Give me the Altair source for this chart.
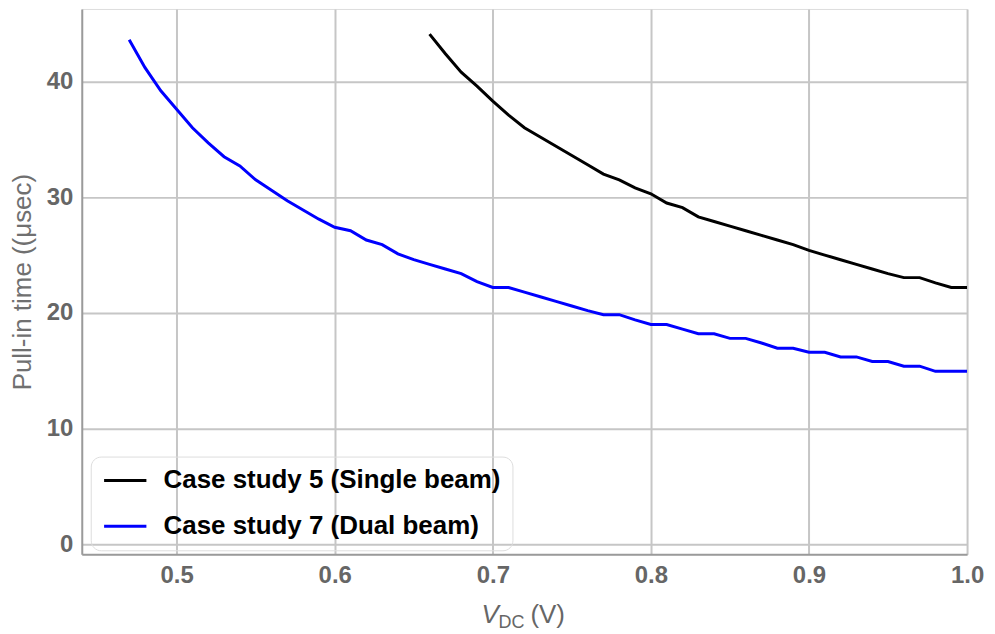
import altair as alt
import pandas as pd

# ---------------- data ----------------
series_names = ["Case study 5 (Single beam)", "Case study 7 (Dual beam)"]
series_colors = ["#000000", "#0000ff"]

vdc_single = [0.66, 0.67, 0.68, 0.69, 0.70, 0.71, 0.72, 0.73, 0.74, 0.75, 0.76, 0.77,
              0.78, 0.79, 0.80, 0.81, 0.82, 0.83, 0.84, 0.85, 0.86, 0.87, 0.88, 0.89,
              0.90, 0.91, 0.92, 0.93, 0.94, 0.95, 0.96, 0.97, 0.98, 0.99, 1.00]
time_single = [44.1, 42.4, 40.8, 39.6, 38.3, 37.1, 36.0, 35.2, 34.4, 33.6, 32.8, 32.0,
               31.5, 30.8, 30.3, 29.5, 29.1, 28.3, 27.9, 27.5, 27.1, 26.7, 26.3, 25.9,
               25.4, 25.0, 24.6, 24.2, 23.8, 23.4, 23.05, 23.05, 22.6, 22.2, 22.2]

vdc_dual = [0.47, 0.48, 0.49, 0.50, 0.51, 0.52, 0.53, 0.54, 0.55, 0.56, 0.57, 0.58,
            0.59, 0.60, 0.61, 0.62, 0.63, 0.64, 0.65, 0.66, 0.67, 0.68, 0.69, 0.70,
            0.71, 0.72, 0.73, 0.74, 0.75, 0.76, 0.77, 0.78, 0.79, 0.80, 0.81, 0.82,
            0.83, 0.84, 0.85, 0.86, 0.87, 0.88, 0.89, 0.90, 0.91, 0.92, 0.93, 0.94,
            0.95, 0.96, 0.97, 0.98, 0.99, 1.00]
time_dual = [43.6, 41.2, 39.2, 37.6, 36.0, 34.7, 33.5, 32.7, 31.5, 30.6, 29.7, 28.9,
             28.1, 27.4, 27.1, 26.3, 25.9, 25.1, 24.6, 24.2, 23.8, 23.4, 22.7, 22.2,
             22.2, 21.8, 21.4, 21.0, 20.6, 20.2, 19.85, 19.85, 19.4, 19.0, 19.0, 18.6,
             18.2, 18.2, 17.8, 17.8, 17.4, 16.95, 16.95, 16.6, 16.6, 16.2, 16.2, 15.8,
             15.8, 15.4, 15.4, 14.95, 14.95, 14.95]

x_ticks = [0.5, 0.6, 0.7, 0.8, 0.9, 1.0]
y_ticks = [0, 10, 20, 30, 40]
x_title_parts = ["V", "DC", "(V)"]
y_title = "Pull-in time ((\u03bcsec)"

# ---------------- table ----------------
rows = []
for v, t in zip(vdc_single, time_single):
    rows.append({"vdc": v, "time": t, "series": series_names[0], "order": 0})
for v, t in zip(vdc_dual, time_dual):
    rows.append({"vdc": v, "time": t, "series": series_names[1], "order": 1})
df = pd.DataFrame(rows)

W, H = 888, 547
GRID = "#c6c6c6"
FRAME = "#9a9a9a"
TICKC = "#666666"

lines = alt.Chart(df).mark_line(strokeWidth=3, clip=True).encode(
    x=alt.X("vdc:Q",
            scale=alt.Scale(domain=[0.44, 1.0], nice=False, zero=False),
            axis=alt.Axis(values=x_ticks, format=".1f", title=None,
                          labelFont="Liberation Sans", labelFontWeight="bold",
                          labelFontSize=24, labelColor=TICKC, labelPadding=9,
                          labelFlush=False, ticks=False,
                          grid=True, gridColor=GRID, gridWidth=2,
                          domainColor=FRAME, domainWidth=2)),
    y=alt.Y("time:Q",
            scale=alt.Scale(domain=[-0.86, 46.27], nice=False, zero=False),
            axis=alt.Axis(values=y_ticks, format="d", title=y_title,
                          labelFont="Liberation Sans", labelFontWeight="bold",
                          labelFontSize=24, labelColor=TICKC, labelPadding=9,
                          ticks=False, grid=True, gridColor=GRID, gridWidth=2,
                          domainColor=FRAME, domainWidth=2,
                          titleFont="Liberation Sans", titleFontWeight="normal",
                          titleFontSize=26, titleColor="#707070",
                          titleX=-59, titleBaseline="middle")),
    color=alt.Color("series:N",
                    scale=alt.Scale(domain=series_names, range=series_colors),
                    legend=alt.Legend(title=None, orient="none",
                                      legendX=9, legendY=449,
                                      symbolType="M-1,0H3", symbolSize=450,
                                      symbolStrokeWidth=3, labelOffset=36,
                                      labelFont="Liberation Sans",
                                      labelFontWeight="bold", labelFontSize=26,
                                      labelColor="#000000", labelLimit=600,
                                      rowPadding=20, padding=11,
                                      strokeColor="#dddddd", cornerRadius=10)),
    detail="order:N",
)

tdf = pd.DataFrame({"t": x_title_parts})
t_v = alt.Chart(tdf).transform_filter(alt.datum.t == x_title_parts[0]).mark_text(
    align="left", baseline="alphabetic", font="Liberation Sans", fontSize=26,
    fontStyle="italic", color=TICKC).encode(
    text="t:N", x=alt.value(401), y=alt.value(616))
t_dc = alt.Chart(tdf).transform_filter(alt.datum.t == x_title_parts[1]).mark_text(
    align="left", baseline="alphabetic", font="Liberation Sans", fontSize=18,
    color=TICKC).encode(
    text="t:N", x=alt.value(418), y=alt.value(621))
t_unit = alt.Chart(tdf).transform_filter(alt.datum.t == x_title_parts[2]).mark_text(
    align="left", baseline="alphabetic", font="Liberation Sans", fontSize=26,
    color=TICKC).encode(
    text="t:N", x=alt.value(450), y=alt.value(616))

chart = alt.layer(lines, t_v, t_dc, t_unit).properties(
    width=W, height=H,
    autosize=alt.AutoSizeParams(type="none"),
    padding={"left": 74, "top": 0, "right": 20, "bottom": 78},
).configure_view(stroke=FRAME, strokeWidth=2).configure(background="white")

chart.save("out.html", embed_options={"renderer": "svg", "actions": False})
